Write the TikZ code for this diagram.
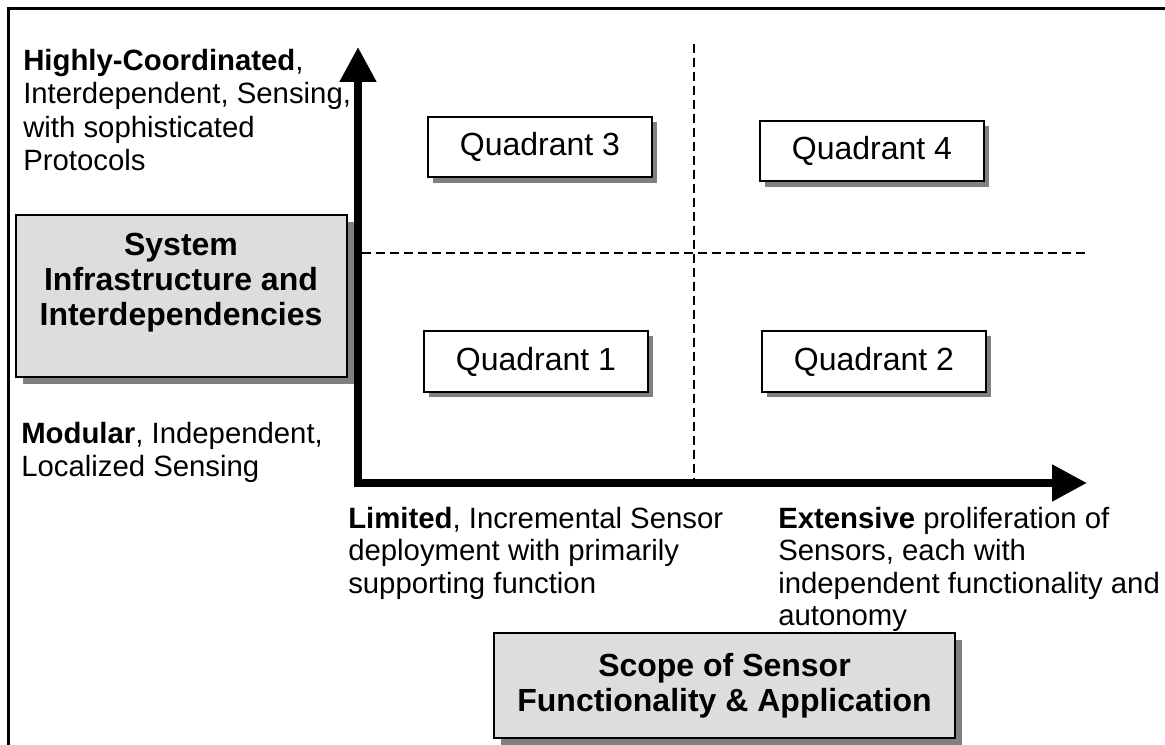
\documentclass[tikz,border=0pt]{standalone}
\usepackage{fontspec}
\setmainfont{Liberation Sans}
\usetikzlibrary{arrows.meta,shadows}
\definecolor{shadowgray}{HTML}{808080}
\definecolor{boxgray}{HTML}{DDDDDD}
\begin{document}
\begin{tikzpicture}[x=0.75pt,y=-0.75pt,
  quad/.style={draw=black, line width=1.4pt, fill=white, minimum width=168pt, minimum height=45.5pt, inner sep=0pt,
    font=\fontsize{24}{28}\selectfont,
    drop shadow={shadow xshift=4pt, shadow yshift=-4pt, opacity=1, fill=shadowgray}},
  titlebox/.style={draw=black, line width=1.4pt, fill=boxgray, inner sep=0pt,
    drop shadow={shadow xshift=5pt, shadow yshift=-5pt, opacity=1, fill=shadowgray}},
  titletext/.style={align=center, inner sep=0pt, font=\bfseries\fontsize{24}{26.25}\selectfont},
  lbl/.style={align=left, inner sep=0pt, anchor=north west, font=\fontsize{22}{25}\selectfont},
  lbltwo/.style={align=left, inner sep=0pt, anchor=north west, font=\fontsize{22}{24.2}\selectfont},
  divider/.style={line width=1.1pt, dash pattern=on 6.75pt off 3.75pt},
  axis/.style={line width=6pt, line join=miter,
    {Triangle[length=26.25pt,width=26.25pt]}-{Triangle[length=26.25pt,width=26.25pt]}}
]
\useasboundingbox (0,0) rectangle (1165,745);

% outer frame
\draw[line width=2.25pt] (8.5,745) -- (8.5,9) -- (1165,9);

% coordinates
\coordinate (ytop) at (358,47);
\coordinate (orig) at (358,483);
\coordinate (xend) at (1087,483);
\coordinate (hl) at (362,253);
\coordinate (hr) at (1088,253);
\coordinate (vt) at (694,44);
\coordinate (vb) at (694,479);

% dividers
\draw[divider] (hl) -- (hr);
\draw[divider] (vt) -- (vb);

% axes
\draw[axis] (ytop) -- (orig) -- (xend);

% quadrants
\node[quad] (q3) at (540,147) {Quadrant 3};
\node[quad] (q1) at (536,361.5) {Quadrant 1};
\node[quad] (q4) at (872,151) {Quadrant 4};
\node[quad] (q2) at (874,361.5) {Quadrant 2};

% title boxes
\node[titlebox, minimum width=248.25pt, minimum height=121.5pt] (sysbox) at (181.5,296) {};
\node[titletext] (systext) at (181,283) {System\\Infrastructure and\\Interdependencies};
\node[titlebox, titletext, minimum width=345.75pt, minimum height=78.75pt] (scope) at (724.5,685.5) {Scope of Sensor\\Functionality \& Application};

% labels
\node[lbl] (hi) at (23,49) {\textbf{Highly-Coordinated},\\Interdependent, Sensing,\\with sophisticated\\Protocols};
\node[lbl] (mod) at (21,422) {\textbf{Modular}, Independent,\\Localized Sensing};
\node[lbltwo] (lim) at (348,507) {\textbf{Limited}, Incremental Sensor\\deployment with primarily\\supporting function};
\node[lbltwo] (ext) at (778,507) {\textbf{Extensive} proliferation of\\Sensors, each with\\independent functionality and\\autonomy};
\end{tikzpicture}
\end{document}
